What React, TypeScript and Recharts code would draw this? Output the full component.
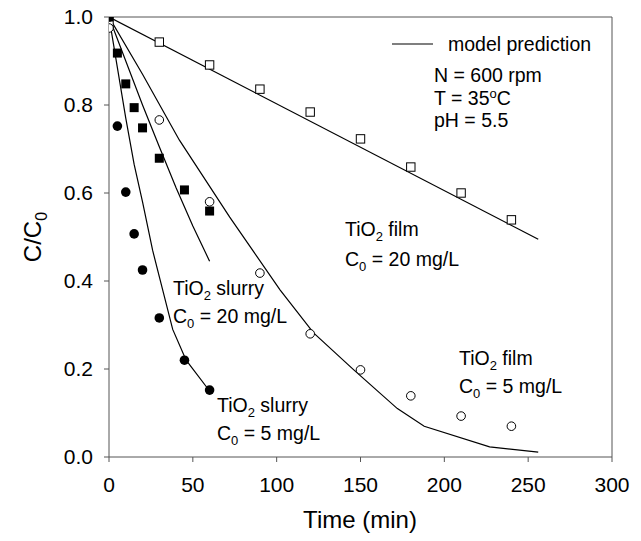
import { ScatterChart, Scatter, XAxis, YAxis, ReferenceLine, Customized } from 'recharts'

const FONT = '"Liberation Sans", Arial, sans-serif'

// Measured points (C/C0 vs time in min)
const filmTimes = [0, 30, 60, 90, 120, 150, 180, 210, 240]
const film20Values = [0.985, 0.943, 0.891, 0.836, 0.784, 0.723, 0.659, 0.6, 0.539]
const film5Values = [0.975, 0.766, 0.58, 0.418, 0.28, 0.198, 0.139, 0.093, 0.07]

const slurryTimes = [0, 5, 10, 15, 20, 30, 45, 60]
const slurry20Values = [1.0, 0.918, 0.848, 0.794, 0.748, 0.679, 0.607, 0.559]
const slurry5Values = [1.0, 0.752, 0.602, 0.507, 0.425, 0.316, 0.22, 0.152]

// Model prediction curves
const film20ModelTimes = [0, 256]
const film20ModelValues = [1.0, 0.495]
const film5ModelTimes = [0, 20, 42, 72, 102, 122, 146, 172, 188, 227, 256]
const film5ModelValues = [1.0, 0.87, 0.72, 0.545, 0.38, 0.282, 0.198, 0.11, 0.07, 0.023, 0.011]
const slurry20ModelTimes = [0, 10, 20, 30, 40, 50, 60]
const slurry20ModelValues = [1.0, 0.9, 0.8, 0.705, 0.612, 0.525, 0.445]
const slurry5ModelTimes = [0, 5, 10, 15, 20, 26, 30, 38, 46, 60]
const slurry5ModelValues = [1.0, 0.885, 0.77, 0.665, 0.58, 0.47, 0.41, 0.29, 0.22, 0.15]

const xTicks = [0, 50, 100, 150, 200, 250, 300]
const yTicks = [0, 0.2, 0.4, 0.6, 0.8, 1.0]

const zip = (ts: number[], cs: number[]) => ts.map((t, i) => ({ t, c: cs[i] }))

const AXIS = '#555'

function FilledCircle(props: any) {
  return <circle cx={props.cx} cy={props.cy} r={4.8} fill="#000" />
}
function OpenCircle(props: any) {
  return <circle cx={props.cx} cy={props.cy} r={4.3} fill="#fff" stroke="#000" strokeWidth={1} />
}
function FilledSquare(props: any) {
  return <rect x={props.cx - 4.5} y={props.cy - 4.5} width={9} height={9} fill="#000" />
}
function OpenSquare(props: any) {
  return (
    <rect x={props.cx - 4.2} y={props.cy - 4.2} width={8.4} height={8.4} fill="#fff" stroke="#000" strokeWidth={1} />
  )
}
const NoDot = () => <g />

// two-line label with TiO2 / C0 subscripts
function Note({ x, y, kind, conc, gap = 28 }: { x: number; y: number; kind: string; conc: string; gap?: number }) {
  return (
    <g fontFamily={FONT} fontSize={19.5} fill="#000">
      <text x={x} y={y}>
        TiO<tspan fontSize={13} dy={5}>2</tspan>
        <tspan dy={-5}> {kind}</tspan>
      </text>
      <text x={x} y={y + gap}>
        C<tspan fontSize={13} dy={5}>0</tspan>
        <tspan dy={-5}> = {conc}</tspan>
      </text>
    </g>
  )
}

function Annotations() {
  return (
    <g>
      <line x1={392} x2={433} y1={44} y2={44} stroke="#000" strokeWidth={1.2} />
      <g fontFamily={FONT} fontSize={19.5} fill="#000">
        <text x={448} y={51}>model prediction</text>
        <text x={434} y={82}>N = 600 rpm</text>
        <text x={434} y={105}>
          T = 35<tspan fontSize={13} dy={-7}>o</tspan>
          <tspan dy={7}>C</tspan>
        </text>
        <text x={434} y={127}>pH = 5.5</text>
      </g>
      <Note x={345} y={236} kind="film" conc="20 mg/L" gap={30} />
      <Note x={459} y={365} kind="film" conc="5 mg/L" />
      <Note x={173} y={295} kind="slurry" conc="20 mg/L" />
      <Note x={217} y={412} kind="slurry" conc="5 mg/L" />
      <text x={360} y={528} textAnchor="middle" fontFamily={FONT} fontSize={24} fill="#000">
        Time (min)
      </text>
      <text transform="translate(41,237) rotate(-90)" textAnchor="middle" fontFamily={FONT} fontSize={24} fill="#000">
        C/C<tspan fontSize={16} dy={6}>0</tspan>
      </text>
    </g>
  )
}

export default function App() {
  const tickStyle = { fill: '#000', fontSize: 21, fontFamily: FONT }
  return (
    <div style={{ position: 'absolute', left: 0, top: 0, width: 641, height: 541, background: '#fff' }}>
      <ScatterChart width={641} height={541} margin={{ top: 17, right: 29, bottom: 24, left: 0 }}>
        <XAxis
          type="number"
          dataKey="t"
          domain={[0, 300]}
          ticks={xTicks}
          height={60}
          stroke={AXIS}
          tickSize={5}
          tickMargin={15}
          tick={tickStyle}
          allowDataOverflow
        />
        <YAxis
          type="number"
          dataKey="c"
          domain={[0, 1]}
          ticks={yTicks}
          width={109}
          stroke={AXIS}
          tickSize={5}
          tickMargin={11}
          tick={tickStyle}
          tickFormatter={(v: number) => v.toFixed(1)}
          allowDataOverflow
        />
        <ReferenceLine y={1} stroke={AXIS} strokeWidth={1} />
        <ReferenceLine x={300} stroke={AXIS} strokeWidth={1} />

        <Scatter data={zip(film20ModelTimes, film20ModelValues)} line={{ stroke: '#000', strokeWidth: 1.2 }} shape={NoDot} isAnimationActive={false} />
        <Scatter data={zip(film5ModelTimes, film5ModelValues)} line={{ stroke: '#000', strokeWidth: 1.2 }} shape={NoDot} isAnimationActive={false} />
        <Scatter data={zip(slurry20ModelTimes, slurry20ModelValues)} line={{ stroke: '#000', strokeWidth: 1.2 }} shape={NoDot} isAnimationActive={false} />
        <Scatter data={zip(slurry5ModelTimes, slurry5ModelValues)} line={{ stroke: '#000', strokeWidth: 1.2 }} shape={NoDot} isAnimationActive={false} />

        <Scatter data={zip(filmTimes, film20Values)} shape={OpenSquare} isAnimationActive={false} />
        <Scatter data={zip(filmTimes, film5Values)} shape={OpenCircle} isAnimationActive={false} />
        <Scatter data={zip(slurryTimes, slurry20Values)} shape={FilledSquare} isAnimationActive={false} />
        <Scatter data={zip(slurryTimes, slurry5Values)} shape={FilledCircle} isAnimationActive={false} />

        <Customized component={Annotations} />
      </ScatterChart>
    </div>
  )
}
